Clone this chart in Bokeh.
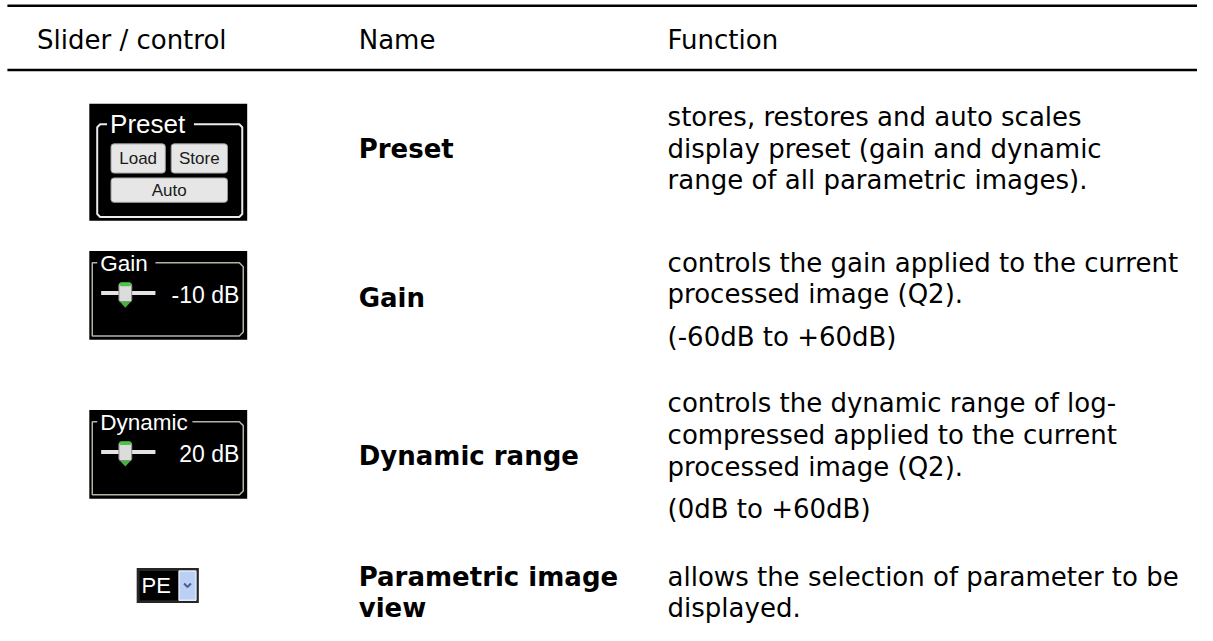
from bokeh.plotting import figure
from bokeh.models import Range1d
from bokeh.core.properties import value
from bokeh.embed import file_html
from bokeh.resources import INLINE

# ---------------- data ----------------
headers = ["Slider / control", "Name", "Function"]
names = [["Preset"], ["Gain"], ["Dynamic range"], ["Parametric image", "view"]]
functions = [
    [["stores, restores and auto scales", "display preset (gain and dynamic",
      "range of all parametric images)."]],
    [["controls the gain applied to the current", "processed image (Q2)."],
     ["(-60dB to +60dB)"]],
    [["controls the dynamic range of log-", "compressed applied to the current",
      "processed image (Q2)."], ["(0dB to +60dB)"]],
    [["allows the selection of parameter to be", "displayed."]],
]
preset_buttons = ["Load", "Store", "Auto"]
slider_labels = ["Gain", "Dynamic"]
slider_values = ["-10 dB", "20 dB"]
combo_value = "PE"

# ---------------- layout (reference pixel space 1213 x 641) ----------------
W, H = 1197, 625
RW, RH = 1213, 641
FONT = value("DejaVu Sans")
UI_FONT = value("Liberation Sans")
FS = "26px"
col_x = [37, 363, 676]
header_mid = 40
rule_y = [5.3, 71.3]
line_h = 32.5
para_extra = 11
# vertical centres (cap middle) of the first text line of every row
func_first = [119.5, 269, 413, 591]
name_first = [152, 305, 467, 591]
preset_box = (90, 106, 250, 226)
slider_top = [257, 420]
slider_w, slider_h = 160, 91
combo_box = (138, 582, 201, 618)

p = figure(width=W, height=H, x_range=Range1d(0, RW), y_range=Range1d(RH, 0),
           output_backend="svg", toolbar_location=None, min_border=0,
           x_axis_type=None, y_axis_type=None)
p.grid.visible = False
p.outline_line_color = None
p.background_fill_color = "white"
p.border_fill_color = "white"

# rules
for ry in rule_y:
    p.line([7, RW], [ry, ry], line_color="black", line_width=2.5)

# header
p.text(x=col_x, y=[header_mid] * 3, text=headers, text_font=FONT, text_font_size=FS,
       text_baseline="middle", text_color="black")

# names (bold)
nx, ny, nt = [], [], []
for i, lines in enumerate(names):
    for j, t in enumerate(lines):
        nx.append(col_x[1]); ny.append(name_first[i] + j * line_h); nt.append(t)
p.text(x=nx, y=ny, text=nt, text_font=FONT, text_font_size=FS, text_font_style="bold",
       text_baseline="middle", text_color="black")

# function text
fx, fy, ft = [], [], []
for i, paras in enumerate(functions):
    y = func_first[i]
    for k, para in enumerate(paras):
        if k > 0:
            y += para_extra
        for t in para:
            fx.append(col_x[2]); fy.append(y); ft.append(t)
            y += line_h
p.text(x=fx, y=fy, text=ft, text_font=FONT, text_font_size=FS,
       text_baseline="middle", text_color="black")

# ---------------- icons ----------------
# Preset group box
x0, y0, x1, y1 = preset_box
p.quad(left=x0, right=x1, top=y0, bottom=y1, fill_color="black", line_color=None)
fl, fr, ft_, fb = x0 + 8, x1 - 5, y0 + 21, y1 - 4
p.line([x0 + 18, fl + 3, fl, fl, fl + 3, fr - 3, fr, fr, fr - 3, x0 + 106],
       [ft_, ft_, ft_ + 3, fb - 3, fb, fb, fb - 3, ft_ + 3, ft_, ft_],
       line_color="#ececec", line_width=2)
p.text(x=[x0 + 21], y=[y0 + 21], text=["Preset"], text_font=UI_FONT, text_font_size="26px",
       text_baseline="middle", text_color="white")
bl, br = x0 + 22, x1 - 20
split_l, split_r = x0 + 77, x0 + 83
btn_top = [y0 + 41, y0 + 41, y0 + 76]
btn_bot = [y0 + 71, y0 + 71, y0 + 101]
p.quad(left=[bl, split_r, bl], right=[split_l, br, br], top=btn_top, bottom=btn_bot,
       fill_color="#e6e6e6", line_color="#9c9c9c", line_width=1, border_radius=3)
p.text(x=[(bl + split_l) / 2, (split_r + br) / 2, (bl + br) / 2],
       y=[(a + b) / 2 for a, b in zip(btn_top, btn_bot)], text=preset_buttons,
       text_font=UI_FONT, text_font_size="17px", text_align="center",
       text_baseline="middle", text_color="#1a1a1a")

# slider boxes
for i in range(2):
    x0, y0 = preset_box[0], slider_top[i]
    x1, y1 = x0 + slider_w, y0 + slider_h
    p.quad(left=x0, right=x1, top=y0, bottom=y1, fill_color="black", line_color=None)
    lab_end = x0 + 17 + 12.5 * len(slider_labels[i])
    fl, fr, ft_, fb = x0 + 3, x1 - 4, y0 + 12, y1 - 4
    p.line([x0 + 8, fl, fl, fr - 4, fr, fr, fr - 4, lab_end],
           [ft_, ft_, fb, fb, fb - 4, ft_ + 4, ft_, ft_],
           line_color="#b4b4a8", line_width=1.5)
    p.text(x=[x0 + 11], y=[y0 + 13], text=[slider_labels[i]], text_font=UI_FONT,
           text_font_size="22.5px", text_baseline="middle", text_color="white")
    # track
    p.line([x0 + 12, x0 + 67], [y0 + 43, y0 + 43], line_color="#e4e4e4", line_width=4)
    # thumb
    p.quad(left=x0 + 30, right=x0 + 43, top=y0 + 33, bottom=y0 + 52,
           fill_color="#dcdcdc", line_color="#8c8c8c", line_width=1, border_radius=2)
    p.quad(left=x0 + 30.5, right=x0 + 42.5, top=y0 + 32, bottom=y0 + 36,
           fill_color="#4cc444", line_color=None, border_radius=2)
    p.patch(x=[x0 + 31, x0 + 42, x0 + 36.5], y=[y0 + 52, y0 + 52, y0 + 58],
            fill_color="#48b040", line_color=None)
    p.text(x=[x1 - 8], y=[y0 + 45], text=[slider_values[i]], text_font=UI_FONT,
           text_font_size="23px", text_align="right", text_baseline="middle",
           text_color="white")

# combo box
x0, y0, x1, y1 = combo_box
p.quad(left=x0, right=x1, top=y0, bottom=y1, fill_color="#262626", line_color=None)
p.quad(left=x0 + 3, right=x1 - 21, top=y0 + 3, bottom=y1 - 3, fill_color="black",
       line_color=None)
p.quad(left=x1 - 20, right=x1 - 3, top=y0 + 3, bottom=y1 - 3, fill_color="#bcd0f6",
       line_color="#e4ecfc", line_width=1.5)
p.line([x1 - 15, x1 - 11.5, x1 - 8], [y0 + 16, y0 + 19.5, y0 + 16], line_color="#4a5e96",
       line_width=2)
p.text(x=[x0 + 5], y=[(y0 + y1) / 2], text=[combo_value], text_font=UI_FONT,
       text_font_size="22px", text_baseline="middle", text_color="white")

open("out.html", "w").write(file_html(p, INLINE))
